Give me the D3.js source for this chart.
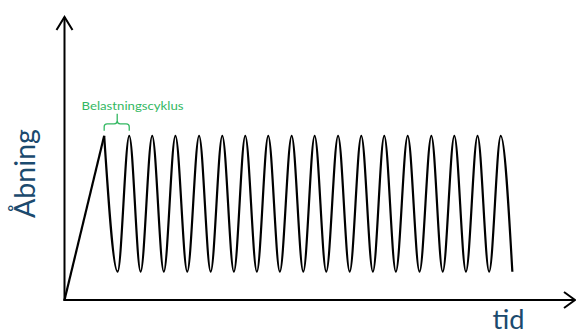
<!DOCTYPE html>
<html>
<head>
<meta charset="utf-8">
<script src="https://cdn.jsdelivr.net/npm/d3@7"></script>
<style>
  html, body { margin: 0; padding: 0; background: #ffffff; }
  svg { display: block; }
</style>
</head>
<body>
<svg id="chart" width="576" height="334"></svg>
<script>
// ---- data (time in cycle units, opening in arbitrary units) ----
const rampTimes    = [0, 1.71];
const rampOpenings = [0, 5.8];

const cycleTimes = [
  1.71, 2.29, 2.79, 3.28, 3.78, 4.28, 4.78, 5.29, 5.80, 6.30,
  6.80, 7.30, 7.79, 8.29, 8.78, 9.28, 9.79, 10.29, 10.78, 11.28,
  11.79, 12.29, 12.79, 13.29, 13.78, 14.28, 14.79, 15.30, 15.81, 16.30,
  16.80, 17.30, 17.80, 18.30, 18.80, 19.30
];
const cycleOpenings = [
  5.8, 1.0, 5.8, 1.0, 5.8, 1.0, 5.8, 1.0, 5.8, 1.0,
  5.8, 1.0, 5.8, 1.0, 5.8, 1.0, 5.8, 1.0, 5.8, 1.0,
  5.8, 1.0, 5.8, 1.0, 5.8, 1.0, 5.8, 1.0, 5.8, 1.0,
  5.8, 1.0, 5.8, 1.0, 5.8, 1.0
];

const xLabel = "tid";
const yLabel = "Åbning";
const annotationLabel = "Belastningscyklus";
const xDomain = [0, 22];
const yDomain = [0, 10];

// ---- drawing ----
const svg = d3.select("#chart");
const x = d3.scaleLinear().domain(xDomain).range([64.5, 575]);
const y = d3.scaleLinear().domain(yDomain).range([300, 17]);

const black = "#000000";
const blue = "#1b4a6e";
const green = "#33b862";

// axes
const ax = svg.append("g").attr("fill", "none").attr("stroke", black)
  .attr("stroke-width", 2).attr("stroke-linecap", "butt");
ax.append("line").attr("x1", x(0)).attr("x2", x(0)).attr("y1", y(0) + 1).attr("y2", y(yDomain[1]));
ax.append("line").attr("x1", x(0) - 1).attr("x2", x(xDomain[1])).attr("y1", y(0)).attr("y2", y(0));
ax.append("polyline")
  .attr("points", [[x(0) - 8, y(yDomain[1]) + 13], [x(0), y(yDomain[1])], [x(0) + 8, y(yDomain[1]) + 13]].join(" "))
  .attr("stroke-linejoin", "miter");
ax.append("polyline")
  .attr("points", [[x(xDomain[1]) - 11, y(0) - 8], [x(xDomain[1]), y(0)], [x(xDomain[1]) - 11, y(0) + 8]].join(" "))
  .attr("stroke-linejoin", "miter");

// series
const ramp = rampTimes.map((t, i) => [t, rampOpenings[i]]);
const cycles = cycleTimes.map((t, i) => [t, cycleOpenings[i]]);

svg.append("path")
  .datum(ramp)
  .attr("fill", "none").attr("stroke", black).attr("stroke-width", 2.2)
  .attr("d", d3.line().x(d => x(d[0])).y(d => y(d[1])));

svg.append("path")
  .datum(cycles)
  .attr("fill", "none").attr("stroke", black).attr("stroke-width", 2.2)
  .attr("stroke-linejoin", "round")
  .attr("d", d3.line().x(d => x(d[0])).y(d => y(d[1])).curve(d3.curveMonotoneX));

// annotation bracket over first cycle
const bx0 = x(cycleTimes[0]), bx1 = x(cycleTimes[2]);
const bm = (bx0 + bx1) / 2 + 0.5;
const by = y(cycleOpenings[0]) - 12;
const r = 3;
svg.append("path")
  .attr("fill", "none").attr("stroke", green).attr("stroke-width", 1.3)
  .attr("d", `M${bx0},${by + 7} L${bx0},${by + r} Q${bx0},${by} ${bx0 + r},${by}
              L${bm - r},${by} Q${bm},${by} ${bm},${by - r} L${bm},${by - 10}
              M${bm},${by - r} Q${bm},${by} ${bm + r},${by}
              L${bx1 - r},${by} Q${bx1},${by} ${bx1},${by + r} L${bx1},${by + 7}`);

svg.append("text")
  .attr("x", 81.5).attr("y", 110)
  .attr("font-family", "Lato, 'Open Sans', sans-serif")
  .attr("font-size", 12)
  .attr("fill", green)
  .attr("textLength", 102).attr("lengthAdjust", "spacingAndGlyphs")
  .text(annotationLabel);

// axis titles
svg.append("text")
  .attr("x", 492.5).attr("y", 328.5)
  .attr("font-family", "Lato, 'Open Sans', sans-serif")
  .attr("font-size", 26)
  .attr("fill", blue)
  .attr("textLength", 32).attr("lengthAdjust", "spacingAndGlyphs")
  .text(xLabel);

svg.append("text")
  .attr("transform", "translate(34.5,173.5) rotate(-90)")
  .attr("text-anchor", "middle")
  .attr("font-family", "Lato, 'Open Sans', sans-serif")
  .attr("font-size", 29)
  .attr("fill", blue)
  .attr("textLength", 89).attr("lengthAdjust", "spacingAndGlyphs")
  .text(yLabel);
</script>
</body>
</html>
